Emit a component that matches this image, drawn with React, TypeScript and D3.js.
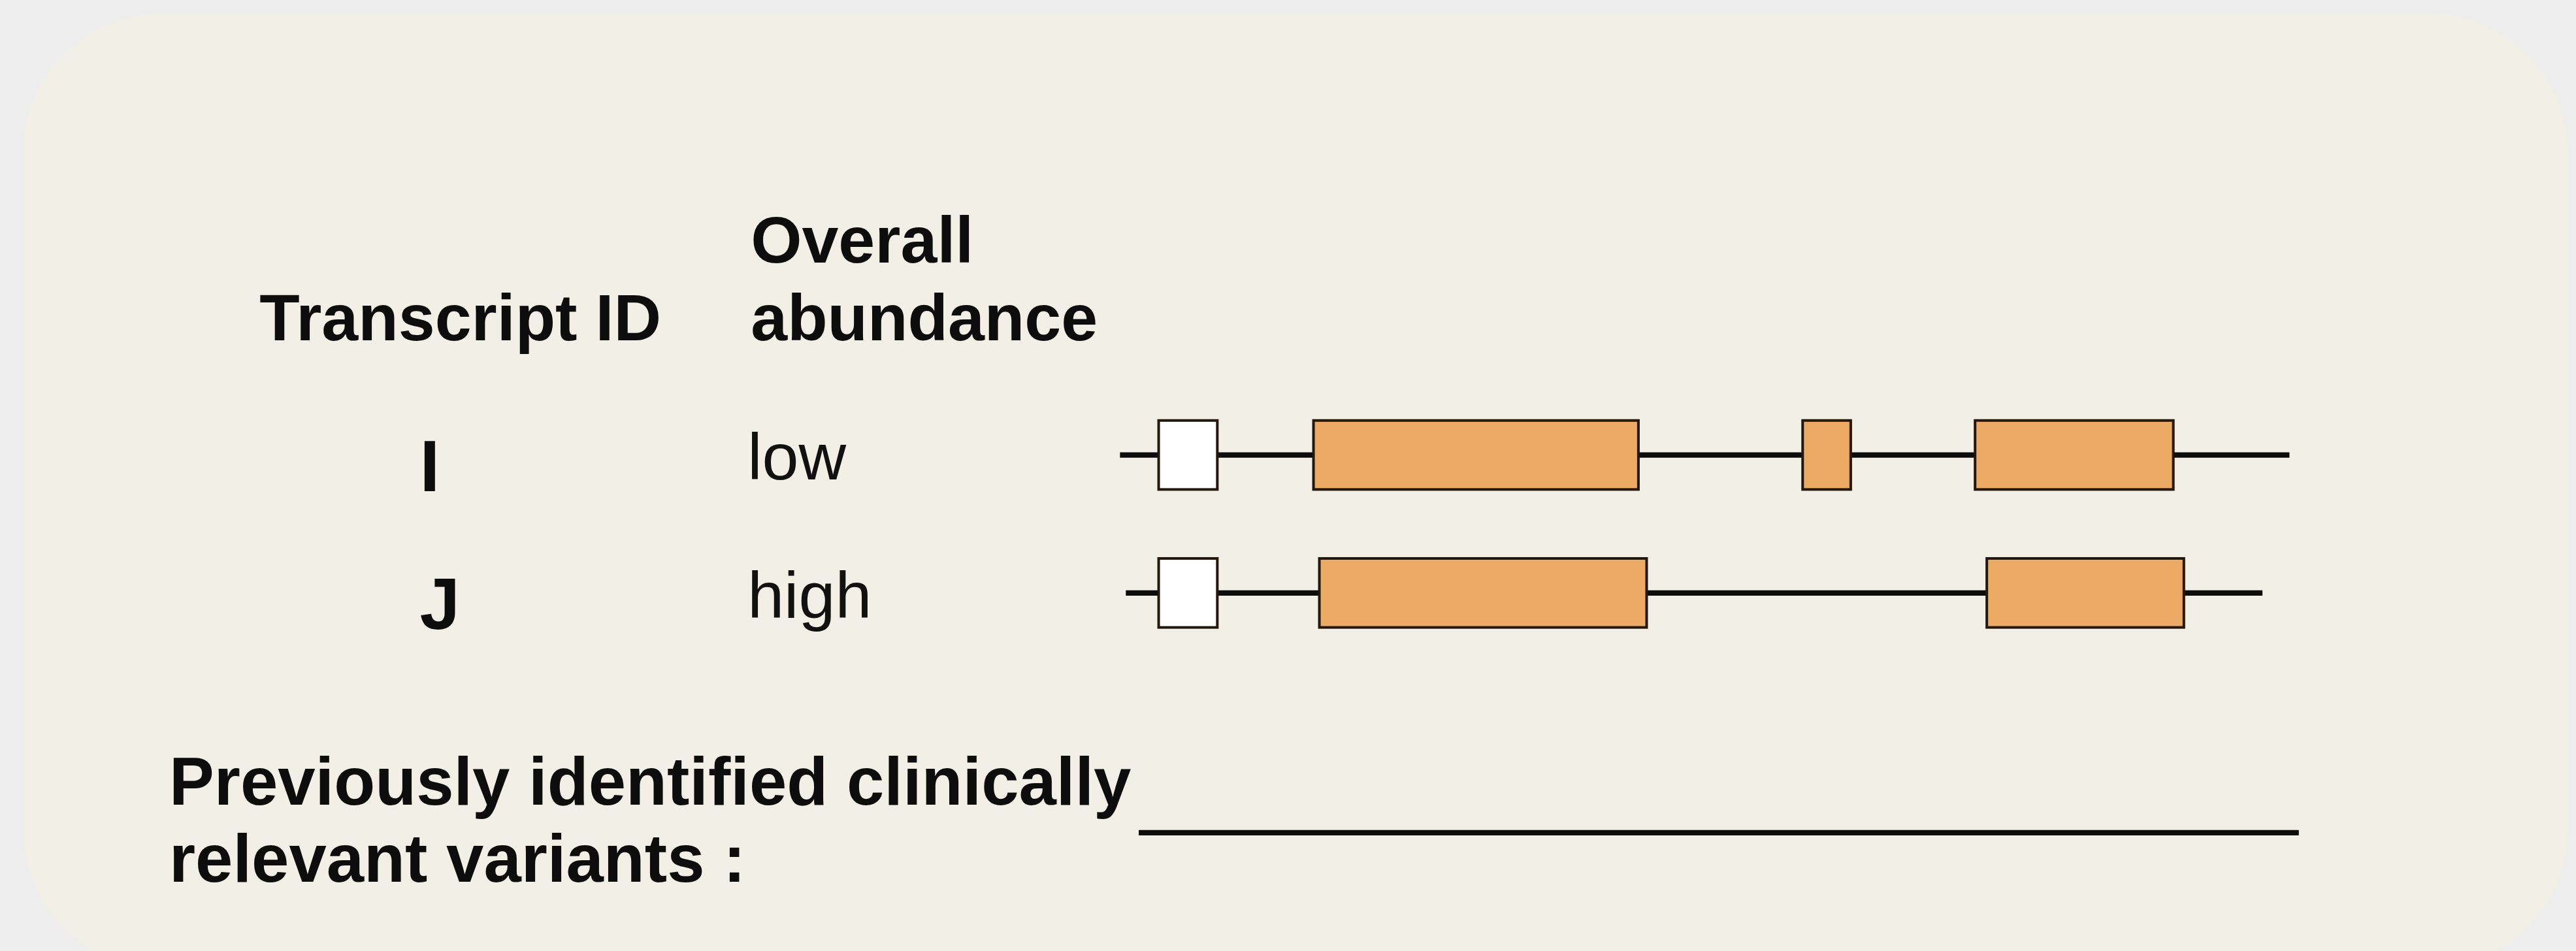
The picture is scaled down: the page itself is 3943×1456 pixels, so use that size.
import * as d3 from "d3";
import React from "react";

// reference picture is 3943x1456, layout below is in 1568x579 units (viewBox)
const W = 1568;
const H = 579;

// transcripts (rows) and their abundance
const transcriptIds = ["I", "J"];
const abundance = ["low", "high"];

// intron line extent per transcript, in relative genomic units
const spanStart = [1, 6];
const spanEnd = [998, 975];

// exons: [transcript, start, end, coding?]
const exonRow = ["I", "I", "I", "I", "J", "J", "J"];
const exonStart = [34, 166, 583, 730, 34, 171, 740];
const exonEnd = [84, 443, 624, 899, 84, 450, 908];
const exonCoding = [false, true, true, true, false, true, true];

// clinically relevant variants track
const variantSpan = [17, 1006];

const headerId = "Transcript ID";
const headerAbundance = ["Overall", "abundance"];
const variantLabel = ["Previously identified clinically", "relevant variants :"];

const font = "'Liberation Sans', Arial, Helvetica, sans-serif";

export default function App() {
  const x = d3.scaleLinear().domain([0, 1000]).range([681, 1395]);
  const y = d3.scalePoint().domain(transcriptIds).range([277, 361]);
  const exonH = 42;

  const exons = exonRow.map((r, i) => ({
    row: r,
    start: exonStart[i],
    end: exonEnd[i],
    coding: exonCoding[i],
  }));

  return (
    <svg
      width={3943}
      height={1456}
      viewBox={`0 0 ${W} ${H}`}
      style={{ position: "absolute", left: 0, top: 0 }}
      fontFamily={font}
    >
      <rect x={0} y={0} width={W} height={H} fill="#eeeeee" />
      <rect x={14} y={8} width={1549} height={582} rx={85} ry={85} fill="#f2efe7" />

      {/* column headers */}
      <g fill="#0d0d0d" fontWeight="bold" fontSize={40}>
        <text x={158} y={207}>
          {headerId}
        </text>
        <text x={457} y={160}>
          {headerAbundance[0]}
        </text>
        <text x={457} y={207}>
          {headerAbundance[1]}
        </text>
      </g>

      {/* rows */}
      {transcriptIds.map((id, i) => (
        <g key={id}>
          <text x={255.5} y={(y(id) as number) + 22} fontSize={44} fontWeight="bold" fill="#0d0d0d">
            {id}
          </text>
          <text x={455} y={(y(id) as number) + 15} fontSize={40} fill="#111">
            {abundance[i]}
          </text>
          <line
            x1={x(spanStart[i])}
            x2={x(spanEnd[i])}
            y1={y(id)}
            y2={y(id)}
            stroke="#0d0d0d"
            strokeWidth={3.3}
          />
        </g>
      ))}

      {/* exons */}
      {exons.map((e, i) => (
        <rect
          key={i}
          x={x(e.start)}
          y={(y(e.row) as number) - exonH / 2}
          width={x(e.end) - x(e.start)}
          height={exonH}
          fill={e.coding ? "#ecaa64" : "#ffffff"}
          stroke="#24180c"
          strokeWidth={1.6}
        />
      ))}

      {/* variants track */}
      <g fill="#0d0d0d" fontWeight="bold" fontSize={41}>
        <text x={103} y={490}>
          {variantLabel[0]}
        </text>
        <text x={103} y={537}>
          {variantLabel[1]}
        </text>
      </g>
      <line
        x1={x(variantSpan[0])}
        x2={x(variantSpan[1])}
        y1={507}
        y2={507}
        stroke="#0d0d0d"
        strokeWidth={3.3}
      />
    </svg>
  );
}
